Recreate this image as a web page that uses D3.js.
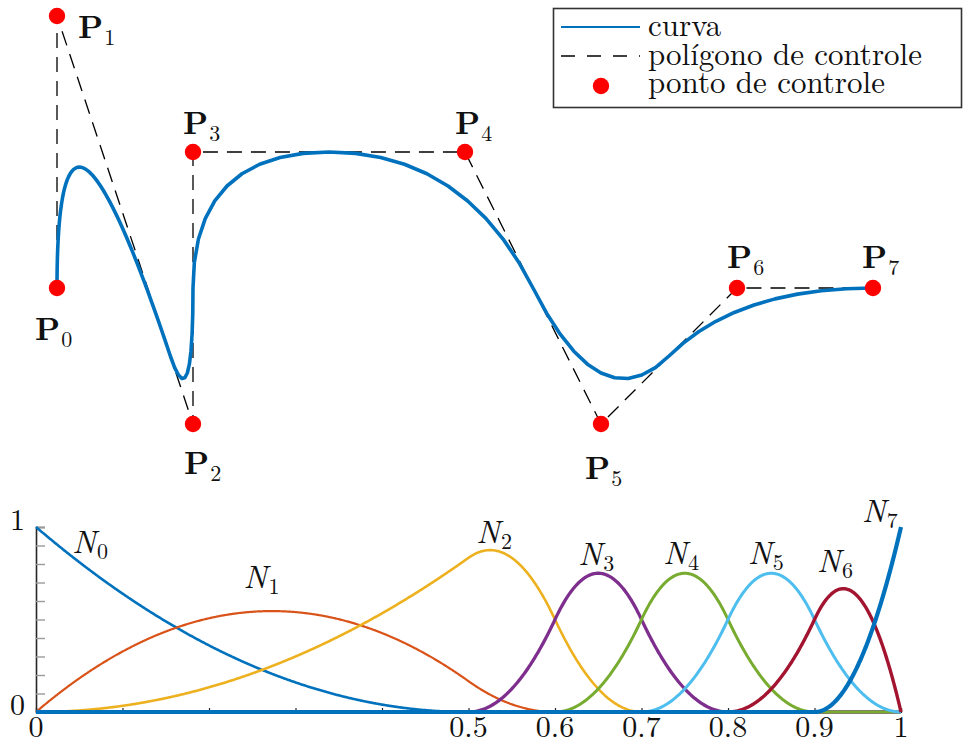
<!DOCTYPE html>
<html>
<head>
<meta charset="utf-8">
<script src="https://cdn.jsdelivr.net/npm/d3@7/dist/d3.min.js"></script>
<style>
  html, body { margin: 0; padding: 0; background: #fff; }
  svg { display: block; }
  text { font-family: "Latin Modern Roman", "CMU Serif", "Liberation Serif", "DejaVu Serif", serif; fill: #111; }
</style>
</head>
<body>
<svg id="chart" width="966" height="742"></svg>
<script>
// Quadratic B-spline: clamped knot vector and control polygon
const degree = 2;
const knots = [0, 0, 0, 0.5, 0.6, 0.7, 0.8, 0.9, 1, 1, 1];
const ctrlX = [0, 0, 1, 1, 3, 4, 5, 6];
const ctrlY = [0, 2, -1, 1, 1, -1, 0, 0];
const pointIndex = [0, 1, 2, 3, 4, 5, 6, 7];

// Basis-function panel
const basisColors = ["#0072BD", "#D95319", "#EDB120", "#7E2F8E", "#77AC30", "#4DBEEE", "#A2142F", "#0072BD"];
const basisWidths = [2.6, 2.2, 2.6, 3.3, 3.0, 3.0, 3.4, 4.2];
const xTickLabels = [0, 0.5, 0.6, 0.7, 0.8, 0.9, 1];
const xMinorTicks = [0, 0.1, 0.2, 0.3, 0.4, 0.5, 0.6, 0.7, 0.8, 0.9, 1];
const yTickLabels = [0, 1];
const yMinorTicks = [0, 0.1, 0.2, 0.3, 0.4, 0.5, 0.6, 0.7, 0.8, 0.9, 1];

// Legend entries
const legendLabels = ["curva", "polígono de controle", "ponto de controle"];

// Label placement (pixel offsets from each control point / basis anchor)
const pointLabelOffsets = [[-22, 52], [21, 22], [-9, 50], [-10, -18], [-10, -18], [-16, 55], [-10, -20], [-11, -20]];
const basisLabelAnchors = [[0.042, 0.86], [0.240, 0.67], [0.509, 0.914], [0.627, 0.795], [0.725, 0.80], [0.823, 0.80], [0.903, 0.757], [0.955, 1.027]];

const svg = d3.select("#chart");

// Cox–de Boor recursion
const lastSpan = (() => {
  let s = 0;
  for (let i = 0; i < knots.length - 1; i++) if (knots[i] < knots[i + 1]) s = i;
  return s;
})();
function N(i, p, t) {
  if (p === 0) {
    if (t >= knots[knots.length - 1]) return i === lastSpan ? 1 : 0;
    return (knots[i] <= t && t < knots[i + 1]) ? 1 : 0;
  }
  let a = 0, b = 0;
  const d1 = knots[i + p] - knots[i];
  const d2 = knots[i + p + 1] - knots[i + 1];
  if (d1 > 0) a = (t - knots[i]) / d1 * N(i, p - 1, t);
  if (d2 > 0) b = (knots[i + p + 1] - t) / d2 * N(i + 1, p - 1, t);
  return a + b;
}

// ---------- Top panel: curve, control polygon, control points ----------
const xTop = d3.scaleLinear().domain([0, 6]).range([57, 873]);
const yTop = d3.scaleLinear().domain([-1, 2]).range([424, 16]);

const curveT = d3.range(0, 101).map(k => k / 100);
const curvePts = curveT.map(t => {
  let x = 0, y = 0;
  pointIndex.forEach(i => { const w = N(i, degree, t); x += w * ctrlX[i]; y += w * ctrlY[i]; });
  return [x, y];
});
const ctrlPts = pointIndex.map(i => [ctrlX[i], ctrlY[i]]);

const lineTop = d3.line().x(d => xTop(d[0])).y(d => yTop(d[1]));

svg.append("path").datum(ctrlPts).attr("d", lineTop)
  .attr("fill", "none").attr("stroke", "#000").attr("stroke-width", 1.3)
  .attr("stroke-dasharray", "15,9");

svg.append("path").datum(curvePts).attr("d", lineTop)
  .attr("fill", "none").attr("stroke", "#0072BD").attr("stroke-width", 3.6)
  .attr("stroke-linejoin", "round");

svg.selectAll("circle.cp").data(ctrlPts).join("circle").attr("class", "cp")
  .attr("cx", d => xTop(d[0])).attr("cy", d => yTop(d[1])).attr("r", 8.2)
  .attr("fill", "#FF0000");

const pLabels = svg.selectAll("text.pl").data(pointIndex).join("text").attr("class", "pl")
  .attr("x", i => xTop(ctrlX[i]) + pointLabelOffsets[i][0])
  .attr("y", i => yTop(ctrlY[i]) + pointLabelOffsets[i][1]);
pLabels.append("tspan").text("P").attr("font-weight", "bold").attr("font-size", 32);
pLabels.append("tspan").text(i => i).attr("font-size", 22).attr("dy", 7).attr("dx", 1);

// ---------- Legend ----------
const lg = svg.append("g");
lg.append("rect").attr("x", 553.5).attr("y", 8.5).attr("width", 408).attr("height", 99)
  .attr("fill", "#fff").attr("stroke", "#333").attr("stroke-width", 1.6);
lg.append("line").attr("x1", 561).attr("x2", 640).attr("y1", 27).attr("y2", 27)
  .attr("stroke", "#0072BD").attr("stroke-width", 2);
lg.append("line").attr("x1", 561).attr("x2", 640).attr("y1", 56).attr("y2", 56)
  .attr("stroke", "#000").attr("stroke-width", 1.5).attr("stroke-dasharray", "14,12");
lg.append("circle").attr("cx", 601).attr("cy", 86).attr("r", 8.2).attr("fill", "#FF0000");
lg.selectAll("text").data(legendLabels).join("text")
  .attr("x", 648).attr("y", (d, i) => 36 + i * 28.5)
  .attr("font-size", 31).text(d => d);

// ---------- Bottom panel: basis functions ----------
const xB = d3.scaleLinear().domain([0, 1]).range([36, 901]);
const yB = d3.scaleLinear().domain([0, 1]).range([712, 527]);

const tGrid = d3.range(0, 1001).map(k => k / 1000);
const basisData = pointIndex.map(i => tGrid.map(t => [t, N(i, degree, t)]));
const lineB = d3.line().x(d => xB(d[0])).y(d => yB(d[1]));

// y axis: labelled ends, minor ticks pointing inward
const yAxis = d3.axisRight(yB).tickValues(yMinorTicks).tickSize(9).tickFormat("");
const gy = svg.append("g").attr("transform", "translate(36,0)").call(yAxis);
gy.select(".domain").attr("stroke", "#262626").attr("stroke-width", 1.6);
gy.selectAll(".tick line").attr("stroke", "#9a9a9a").attr("stroke-width", 1.4);
svg.selectAll("text.yl").data(yTickLabels).join("text").attr("class", "yl")
  .attr("x", 25).attr("y", d => yB(d) + 3).attr("text-anchor", "end")
  .attr("font-size", 30).text(d => d3.format("")(d));

// x axis: ticks every 0.1 pointing up, selected labels below
const xAxis = d3.axisTop(xB).tickValues(xMinorTicks).tickSize(4).tickFormat("");
const gx = svg.append("g").attr("transform", "translate(0,712)").call(xAxis);
gx.select(".domain").attr("stroke", "#262626").attr("stroke-width", 1.2);
gx.selectAll(".tick line").attr("stroke", "#262626").attr("stroke-width", 1.2);
svg.selectAll("text.xl").data(xTickLabels).join("text").attr("class", "xl")
  .attr("x", d => xB(d)).attr("y", 737).attr("text-anchor", "middle")
  .attr("font-size", 30).text(d => d3.format("")(d));

svg.append("g").selectAll("path").data(basisData).join("path")
  .attr("d", lineB).attr("fill", "none")
  .attr("stroke", (d, i) => basisColors[i])
  .attr("stroke-width", (d, i) => basisWidths[i])
  .attr("stroke-linejoin", "round");

const nLabels = svg.selectAll("text.nl").data(pointIndex).join("text").attr("class", "nl")
  .attr("x", i => xB(basisLabelAnchors[i][0]))
  .attr("y", i => yB(basisLabelAnchors[i][1]));
nLabels.append("tspan").text("N").attr("font-style", "italic").attr("font-size", 32);
nLabels.append("tspan").text(i => i).attr("font-size", 22).attr("dy", 6).attr("dx", 1);
</script>
</body>
</html>
